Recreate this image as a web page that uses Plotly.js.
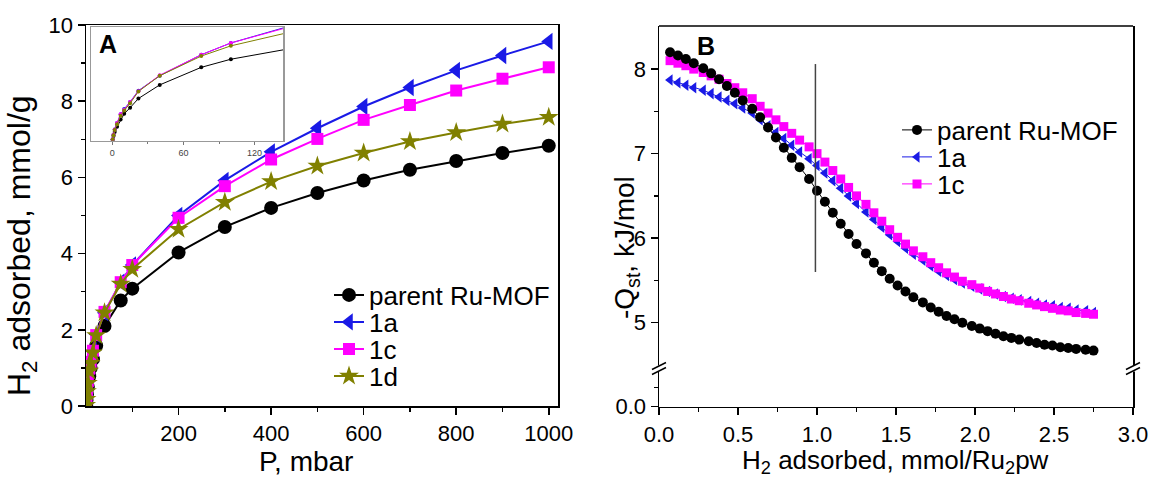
<!DOCTYPE html>
<html><head><meta charset="utf-8">
<script src="https://cdn.plot.ly/plotly-3.0.1.min.js"></script>
<style>html,body{margin:0;padding:0;background:#fff}#chart{width:1152px;height:478px}</style>
</head><body><div id="chart"></div>
<script>
// ---------- Panel A: H2 isotherms ----------
const pressure = [0.3, 1, 2, 4, 7, 10, 15, 22, 40, 75, 100, 200, 300, 400, 500, 600, 700, 800, 900, 1000];
const isoParent = [0.02, 0.15, 0.3, 0.5, 0.78, 1.0, 1.23, 1.58, 2.1, 2.77, 3.08, 4.03, 4.7, 5.2, 5.59, 5.92, 6.2, 6.43, 6.64, 6.83];
const iso1a = [0.03, 0.2, 0.4, 0.65, 0.98, 1.18, 1.45, 1.88, 2.45, 3.25, 3.7, 5.0, 5.92, 6.67, 7.29, 7.86, 8.36, 8.81, 9.2, 9.57];
const iso1c = [0.03, 0.2, 0.4, 0.65, 0.98, 1.15, 1.45, 1.86, 2.47, 3.25, 3.7, 4.94, 5.77, 6.47, 7.01, 7.51, 7.9, 8.28, 8.59, 8.89];
const iso1d = [0.02, 0.18, 0.38, 0.6, 0.92, 1.12, 1.4, 1.85, 2.45, 3.2, 3.59, 4.64, 5.35, 5.89, 6.3, 6.64, 6.94, 7.18, 7.4, 7.58];
const insetTicks = [0, 60, 120];

// ---------- Panel B: isosteric heat ----------
const h2Loading = [0.07,0.12,0.17,0.22,0.28,0.33,0.38,0.43,0.48,0.53,0.59,0.64,0.69,0.74,0.79,0.84,0.89,0.95,1.00,1.05,1.10,1.15,1.20,1.25,1.31,1.36,1.41,1.46,1.51,1.56,1.61,1.67,1.72,1.77,1.82,1.87,1.92,1.98,2.03,2.08,2.13,2.18,2.23,2.28,2.34,2.39,2.44,2.49,2.54,2.59,2.64,2.70,2.75];
const qstParent = [8.20,8.16,8.12,8.07,8.01,7.95,7.88,7.80,7.72,7.63,7.53,7.43,7.31,7.19,7.07,6.95,6.84,6.70,6.56,6.43,6.30,6.17,6.05,5.93,5.82,5.71,5.61,5.52,5.44,5.37,5.30,5.24,5.18,5.13,5.08,5.04,5.00,4.96,4.93,4.90,4.87,4.84,4.82,4.80,4.78,4.76,4.74,4.73,4.71,4.70,4.69,4.68,4.67];
const qst1a = [7.87,7.84,7.81,7.78,7.75,7.71,7.67,7.63,7.59,7.54,7.48,7.40,7.33,7.25,7.18,7.10,7.02,6.94,6.86,6.77,6.68,6.59,6.50,6.41,6.31,6.22,6.13,6.04,5.96,5.88,5.81,5.74,5.67,5.61,5.56,5.51,5.47,5.43,5.40,5.37,5.34,5.31,5.29,5.27,5.25,5.23,5.21,5.20,5.18,5.17,5.15,5.14,5.12];
const qst1c = [8.10,8.07,8.04,8.00,7.96,7.92,7.88,7.83,7.78,7.72,7.65,7.56,7.48,7.40,7.32,7.24,7.16,7.08,7.00,6.90,6.80,6.70,6.60,6.50,6.40,6.30,6.20,6.10,6.01,5.93,5.85,5.78,5.71,5.65,5.59,5.54,5.49,5.45,5.41,5.37,5.34,5.31,5.28,5.26,5.23,5.21,5.19,5.17,5.15,5.14,5.12,5.11,5.10];
const markerLineX = 0.99;
const markerLineY = [5.6, 8.06];
const bTicks = [5, 6, 7, 8];
const bLowTickText = ['0.0'];

const names = ['parent Ru-MOF', '1a', '1c', '1d'];
const colors = ['#000000', '#1a1ae6', '#ff00ff', '#808000'];
const symbols = ['circle', 'triangle-left', 'square', 'star'];
const titles = {
  aX: 'P, mbar',
  aY: 'H<sub>2</sub> adsorbed, mmol/g',
  bX: 'H<sub>2</sub> adsorbed, mmol/Ru<sub>2</sub>pw',
  bY: '-Q<sub>st</sub>, kJ/mol'
};

// ---------- helpers ----------
const W = 1152, H = 478;
const px = v => v / W, py = v => 1 - v / H;
const FONT = 'Liberation Sans, Arial, Helvetica, sans-serif';

const isoSeries = [isoParent, iso1a, iso1c, iso1d];
const aSizes = [14, 15, 12, 15];
const aLegends = ['legend', 'legend2', 'legend3', 'legend4'];
const traces = [];
isoSeries.forEach((ys, i) => {
  traces.push({
    type: 'scatter', mode: 'lines+markers', x: pressure, y: ys, name: names[i],
    xaxis: 'x', yaxis: 'y', legend: aLegends[i],
    line: {color: colors[i], width: 2},
    marker: {symbol: symbols[i], size: aSizes[i], color: colors[i]}
  });
});
isoSeries.forEach((ys, i) => {
  traces.push({
    type: 'scatter', mode: 'lines+markers', x: pressure, y: ys, name: names[i],
    xaxis: 'x2', yaxis: 'y2', showlegend: false,
    line: {color: colors[i], width: 1},
    marker: {symbol: 'circle', size: 4, color: colors[i]}
  });
});
// panel B (draw order 1a, 1c, parent)
const bSeries = [[qst1a, 1, 10, 'legend6'], [qst1c, 2, 9, 'legend7'], [qstParent, 0, 10, 'legend5']];
bSeries.forEach(([ys, ci, sz, lg]) => {
  traces.push({
    type: 'scatter', mode: 'lines+markers', x: h2Loading, y: ys, name: names[ci],
    xaxis: 'x3', yaxis: 'y4', legend: lg,
    line: {color: colors[ci], width: 1},
    marker: {symbol: symbols[ci], size: sz, color: colors[ci]}
  });
});
// empty holder so the lower (broken) y-axis segment of panel B is drawn
traces.push({type: 'scatter', mode: 'markers', x: [1], y: [null], xaxis: 'x3', yaxis: 'y3',
  showlegend: false, hoverinfo: 'skip'});

const base = {
  showline: true, linecolor: '#000', linewidth: 1.5, mirror: true,
  ticks: 'outside', ticklen: 7, tickwidth: 1.5, tickcolor: '#000',
  showgrid: false, zeroline: false, automargin: false,
  tickfont: {family: FONT, size: 22, color: '#000'}
};
const minorBase = {ticks: 'outside', ticklen: 4, tickwidth: 1.5, tickcolor: '#000', showgrid: false};

function breakMark(xc, yc) {
  return [
    {type: 'rect', xref: 'paper', yref: 'paper', x0: px(xc - 3), x1: px(xc + 3), y0: py(yc + 3), y1: py(yc - 3),
     line: {width: 0}, fillcolor: '#fff', layer: 'above'},
    {type: 'line', xref: 'paper', yref: 'paper', x0: px(xc - 7), y0: py(yc + 1), x1: px(xc + 7), y1: py(yc - 6),
     line: {color: '#000', width: 1.5}, layer: 'above'},
    {type: 'line', xref: 'paper', yref: 'paper', x0: px(xc - 7), y0: py(yc + 6), x1: px(xc + 7), y1: py(yc - 1),
     line: {color: '#000', width: 1.5}, layer: 'above'}
  ];
}
function leg(xPix, yPix) {
  return {x: px(xPix), y: py(yPix), xanchor: 'left', yanchor: 'middle',
    bgcolor: 'rgba(0,0,0,0)', borderwidth: 0, itemwidth: 30,
    font: {family: FONT, size: 26, color: '#000'}};
}
function titleAnn(text, xPix, yPix, size, angle) {
  return {text: text, xref: 'paper', yref: 'paper', x: px(xPix), y: py(yPix),
    xanchor: 'center', yanchor: 'middle', showarrow: false, textangle: angle,
    font: {family: FONT, size: size, color: '#000'}};
}

const layout = {
  width: W, height: H, margin: {l: 0, r: 0, t: 0, b: 0},
  paper_bgcolor: '#fff', plot_bgcolor: '#fff',
  font: {family: FONT, color: '#000'},
  xaxis: Object.assign({}, base, {
    domain: [px(86), px(558)], range: [0, 1020], anchor: 'y',
    tickmode: 'array', tickvals: [200, 400, 600, 800, 1000],
    minor: Object.assign({}, minorBase, {tickmode: 'array', tickvals: [100, 300, 500, 700, 900]})
  }),
  yaxis: Object.assign({}, base, {
    domain: [py(406), py(25)], range: [0, 10], anchor: 'x', dtick: 2,
    minor: Object.assign({}, minorBase, {dtick: 1})
  }),
  xaxis2: {
    domain: [px(91), px(283)], range: [-18, 144], anchor: 'y2',
    showline: true, linecolor: '#999', linewidth: 1.5, mirror: true,
    ticks: 'outside', ticklen: 3, tickwidth: 1, tickcolor: '#777',
    tickmode: 'array', tickvals: insetTicks,
    minor: {ticks: 'outside', ticklen: 2, tickcolor: '#777', tickmode: 'array', tickvals: [30, 90]},
    showgrid: false, zeroline: false, automargin: false,
    tickfont: {family: FONT, size: 9, color: '#444'}
  },
  yaxis2: {
    domain: [py(140.7), py(27)], range: [-0.03, 4.31], anchor: 'x2',
    showline: true, linecolor: '#999', linewidth: 1.5, mirror: true,
    ticks: '', showticklabels: false, showgrid: false, zeroline: false, automargin: false
  },
  xaxis3: Object.assign({}, base, {
    domain: [px(659), px(1133)], range: [0, 3], anchor: 'y3', mirror: false,
    dtick: 0.5, tickformat: '.1f',
    minor: Object.assign({}, minorBase, {dtick: 0.25})
  }),
  yaxis3: Object.assign({}, base, {
    domain: [py(406.7), py(368)], range: [0, 1], anchor: 'x3',
    tickmode: 'array', tickvals: [0], ticktext: bLowTickText,
    minor: Object.assign({}, minorBase, {tickmode: 'array', tickvals: [0.5]})
  }),
  yaxis4: Object.assign({}, base, {
    domain: [py(368), py(26)], range: [4.464, 8.51], anchor: 'x3',
    tickmode: 'array', tickvals: bTicks,
    minor: Object.assign({}, minorBase, {tickmode: 'array', tickvals: [5.5, 6.5, 7.5]})
  }),
  legend: leg(329, 295),
  legend2: leg(329, 322),
  legend3: leg(329, 349),
  legend4: leg(329, 376),
  legend5: leg(897, 130),
  legend6: leg(897, 157),
  legend7: leg(897, 184),
  shapes: [
    {type: 'line', xref: 'x3', yref: 'y4', x0: markerLineX, x1: markerLineX, y0: markerLineY[0], y1: markerLineY[1],
     line: {color: '#444', width: 1.5}},
    {type: 'line', xref: 'x3 domain', yref: 'y4 domain', x0: 0, x1: 1, y0: 1, y1: 1,
     line: {color: '#000', width: 1.5}}
  ].concat(breakMark(659, 368.5), breakMark(1133, 368.5)),
  annotations: [
    {text: '<b>A</b>', xref: 'paper', yref: 'paper', x: px(108), y: py(44), xanchor: 'center', yanchor: 'middle',
     showarrow: false, font: {family: FONT, size: 25, color: '#000'}},
    {text: '<b>B</b>', xref: 'paper', yref: 'paper', x: px(706), y: py(46), xanchor: 'center', yanchor: 'middle',
     showarrow: false, font: {family: FONT, size: 25, color: '#000'}},
    titleAnn(titles.aX, 306, 461, 28, 0),
    titleAnn(titles.aY, 22, 246, 32, -90),
    titleAnn(titles.bX, 895, 461, 26, 0),
    titleAnn(titles.bY, 626, 248, 28, -90)
  ]
};

Plotly.newPlot('chart', traces, layout, {displayModeBar: false, staticPlot: true});
</script>
</body></html>
